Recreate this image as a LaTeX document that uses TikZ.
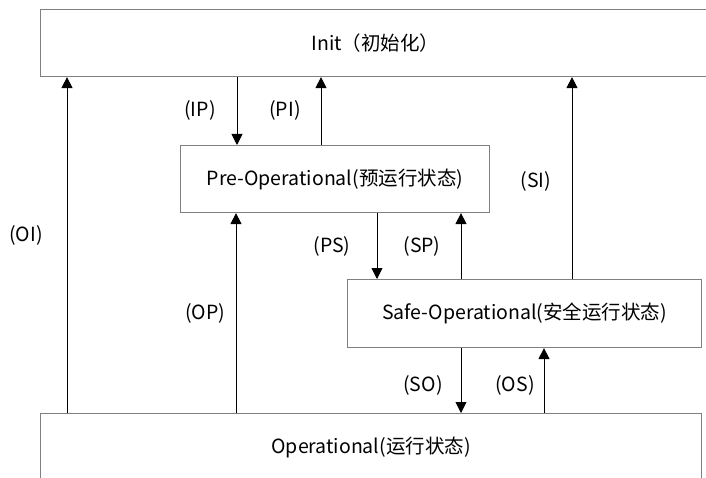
\documentclass[tikz,border=0pt]{standalone}
\usepackage{fontspec}
\setmainfont{Noto Sans CJK SC}
\usetikzlibrary{positioning,arrows.meta}

\begin{document}
\begin{tikzpicture}[
  x=1pt, y=-1pt,
  font=\fontsize{19.5}{22}\selectfont, >={Triangle[length=11pt,width=11pt]},
  box/.style={draw=gray,line width=1.1pt,inner sep=0pt,anchor=north west,minimum height=67},
  lbl/.style={inner sep=0pt},
  flow/.style={->,line width=0.9pt},
]
\useasboundingbox (0,0) rectangle (706,478);
\node[box,minimum width=680] (init) at (40,9) {\hspace*{-10pt}Init（初始化）};
\node[box,minimum width=309] (pre) at (180,145) {Pre-Operational(预运行状态)};
\node[box,minimum width=354,minimum height=68] (safe) at (347,279) {Safe-Operational(安全运行状态)};
\node[box,minimum width=661,minimum height=68] (op) at (40,413) {Operational(运行状态)};
\draw[flow] (op.north -| 67,0) -- (init.south -| 67,0);
\draw[flow] (init.south -| 237,0) -- (pre.north -| 237,0);
\draw[flow] (pre.north -| 321,0) -- (init.south -| 321,0);
\draw[flow] (op.north -| 236,0) -- (pre.south -| 236,0);
\draw[flow] (pre.south -| 377,0) -- (safe.north -| 377,0);
\draw[flow] (safe.north -| 461,0) -- (pre.south -| 461,0);
\draw[flow] (safe.north -| 572,0) -- (init.south -| 572,0);
\draw[flow] (safe.south -| 461,0) -- (op.north -| 461,0);
\draw[flow] (op.north -| 544,0) -- (safe.south -| 544,0);
\node[lbl] (lOI) at (26,235) {(OI)};
\node[lbl] (lIP) at (200,110) {(IP)};
\node[lbl] (lPI) at (285,110) {(PI)};
\node[lbl] (lPS) at (332,246) {(PS)};
\node[lbl] (lSP) at (422,246) {(SP)};
\node[lbl] (lSI) at (536,181) {(SI)};
\node[lbl] (lOP) at (205,313) {(OP)};
\node[lbl] (lSO) at (423,385) {(SO)};
\node[lbl] (lOS) at (515,385) {(OS)};
\end{tikzpicture}
\end{document}
